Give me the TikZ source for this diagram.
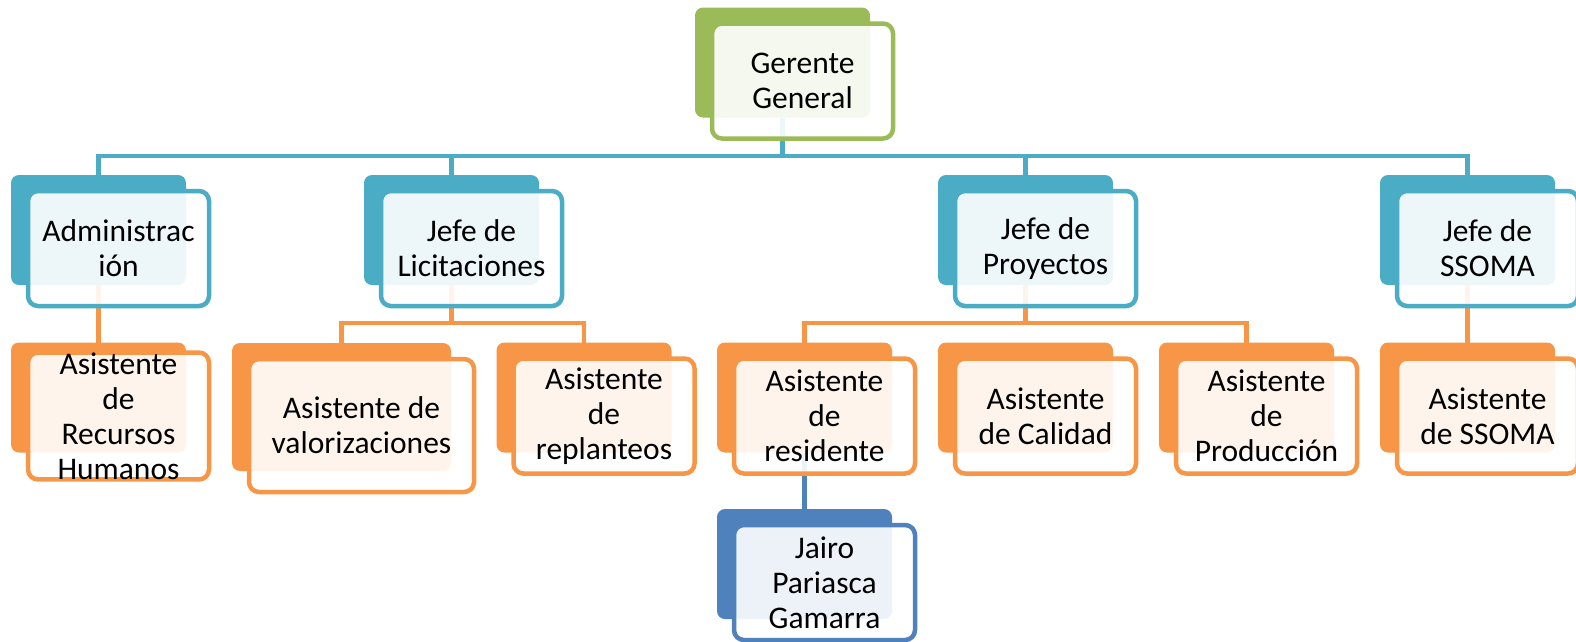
\documentclass[tikz,border=0pt]{standalone}
\usepackage{fontspec}
\setmainfont{Carlito}
\definecolor{boxgreen}{HTML}{9BBB59}
\definecolor{boxaqua}{HTML}{4BACC6}
\definecolor{boxorange}{HTML}{F79646}
\definecolor{boxblue}{HTML}{4F81BD}
\begin{document}
\begin{tikzpicture}[x=1pt, y=-1pt,
boxback/.style={fill=#1, rounded corners=8pt, minimum width=175pt, minimum height=110pt, inner sep=0pt, outer sep=0pt},
boxfront/.style={draw=#1, line width=4.5pt, fill=white, fill opacity=0.9, text opacity=1, rounded corners=10pt,
    minimum width=181pt, minimum height=115pt, inner sep=0pt, outer sep=0pt, align=center,
    font=\fontsize{31.5pt}{35pt}\selectfont},
conn/.style={draw=#1, line width=4.5pt}]
\useasboundingbox (0,0) rectangle (1576,641);
% back tabs
\node[boxback=boxgreen] (gg-b) at (782.5,62.5) {};
\node[boxback=boxaqua] (adm-b) at (98.5,230) {};
\node[boxback=boxaqua] (lic-b) at (451.5,230) {};
\node[boxback=boxaqua] (pro-b) at (1025.5,230) {};
\node[boxback=boxaqua] (sso-b) at (1467.5,230) {};
\node[boxback=boxorange] (rrhh-b) at (98.5,397.5) {};
\node[boxback=boxorange, minimum width=219pt, minimum height=128pt] (val-b) at (341.5,407) {};
\node[boxback=boxorange] (rep-b) at (584,397.5) {};
\node[boxback=boxorange] (res-b) at (804.5,397.5) {};
\node[boxback=boxorange] (cal-b) at (1025.5,397.5) {};
\node[boxback=boxorange] (prod-b) at (1246.5,397.5) {};
\node[boxback=boxorange] (asso-b) at (1467.5,397.5) {};
\node[boxback=boxblue] (jai-b) at (804.5,564) {};
% connectors
\coordinate (bar1) at (0,156);
\coordinate (bar2) at (0,323);
\draw[conn=boxaqua] (adm-b.north) -- (adm-b.north |- bar1) -- (sso-b.north |- bar1) -- (sso-b.north);
\draw[conn=boxaqua] (gg-b.south) -- (gg-b.south |- bar1);
\draw[conn=boxaqua] (lic-b.north) -- (lic-b.north |- bar1);
\draw[conn=boxaqua] (pro-b.north) -- (pro-b.north |- bar1);
\draw[conn=boxorange] (adm-b.south) -- (rrhh-b.north);
\draw[conn=boxorange] (val-b.north) -- (val-b.north |- bar2) -- (rep-b.north |- bar2) -- (rep-b.north);
\draw[conn=boxorange] (lic-b.south) -- (lic-b.south |- bar2);
\draw[conn=boxorange] (res-b.north) -- (res-b.north |- bar2) -- (prod-b.north |- bar2) -- (prod-b.north);
\draw[conn=boxorange] (pro-b.south) -- (pro-b.south |- bar2);
\draw[conn=boxorange] (sso-b.south) -- (asso-b.north);
\draw[conn=boxblue] (res-b.south) -- (jai-b.north);
% front boxes
\node[boxfront=boxgreen] (gg) at ([shift={(20,18.5)}]gg-b) {Gerente\\General};
\node[boxfront=boxaqua] (adm) at ([shift={(20,18.5)}]adm-b) {Administrac\\ión};
\node[boxfront=boxaqua] (lic) at ([shift={(20,18.5)}]lic-b) {Jefe de\\Licitaciones};
\node[boxfront=boxaqua] (pro) at ([shift={(20,18.5)}]pro-b) {Jefe de\\Proyectos};
\node[boxfront=boxaqua] (sso) at ([shift={(20,18.5)}]sso-b) {Jefe de\\SSOMA};
\node[boxfront=boxorange] (rrhh) at ([shift={(20,18.5)}]rrhh-b) {Asistente\\de\\Recursos\\Humanos};
\node[boxfront=boxorange, minimum width=225pt, minimum height=133pt] (val) at ([shift={(20,18.5)}]val-b) {Asistente de\\valorizaciones};
\node[boxfront=boxorange] (rep) at ([shift={(20,18.5)}]rep-b) {Asistente\\de\\replanteos};
\node[boxfront=boxorange] (res) at ([shift={(20,18.5)}]res-b) {Asistente\\de\\residente};
\node[boxfront=boxorange] (cal) at ([shift={(20,18.5)}]cal-b) {Asistente\\de Calidad};
\node[boxfront=boxorange] (prod) at ([shift={(20,18.5)}]prod-b) {Asistente\\de\\Producción};
\node[boxfront=boxorange] (asso) at ([shift={(20,18.5)}]asso-b) {Asistente\\de SSOMA};
\node[boxfront=boxblue] (jai) at ([shift={(20,18.5)}]jai-b) {Jairo\\Pariasca\\Gamarra};
\end{tikzpicture}
\end{document}
